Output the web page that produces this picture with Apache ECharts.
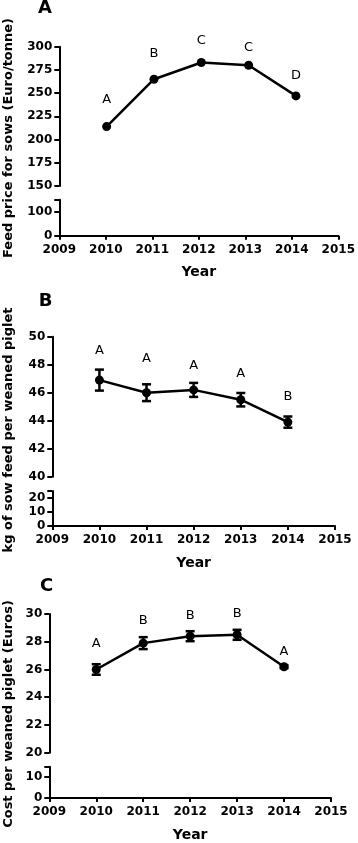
<!DOCTYPE html>
<html>
<head>
<meta charset="utf-8">
<script src="https://cdn.jsdelivr.net/npm/echarts@6/dist/echarts.min.js"></script>
<style>
  html, body { margin: 0; padding: 0; background: #fff; }
  #chart-container { width: 358px; height: 843px; }
</style>
</head>
<body>
<div id="chart-container"></div>
<script>
// data
const years = [2010, 2011, 2012, 2013, 2014];
const yearTicks = [2009, 2015];

const feedPrice = [214, 265, 283, 280, 247];
const feedPriceLetters = ['A', 'B', 'C', 'C', 'D'];
const feedPriceLetterY = [243, 293, 307, 299, 269];

const feedPerPiglet = [46.9, 46.0, 46.2, 45.5, 43.9];
const feedPerPigletErr = [0.75, 0.6, 0.5, 0.48, 0.4];
const feedPerPigletLetters = ['A', 'A', 'A', 'A', 'B'];
const feedPerPigletLetterY = [49.0, 48.4, 47.9, 47.35, 45.7];

const costPerPiglet = [26.0, 27.9, 28.4, 28.5, 26.2];
const costPerPigletErr = [0.38, 0.43, 0.36, 0.36, 0.1];
const costLetters = ['A', 'B', 'B', 'B', 'A'];
const costLetterY = [27.9, 29.5, 29.9, 30.05, 27.3];

const FONT = 'DejaVu Sans';

// panel layout (broken y axis: upper + lower grid)
const panels = [
    {
        tag: 'A', title: 'Feed price for sows (Euro/tonne)',
        values: feedPrice, errors: null, letters: feedPriceLetters, letterY: feedPriceLetterY,
        left: 59.3, width: 284,
        upper: { top: 46.7, height: 139.3, min: 150, max: 300, interval: 25 },
        lower: { top: 199.7, height: 36, max: 150, ticks: [0, 100] },
        tagPos: [45, 8], titlePos: [8.5, 138]
    },
    {
        tag: 'B', title: 'kg of sow feed per weaned piglet',
        values: feedPerPiglet, errors: feedPerPigletErr, letters: feedPerPigletLetters, letterY: feedPerPigletLetterY,
        left: 52.3, width: 282.7,
        upper: { top: 336.7, height: 140, min: 40, max: 50, interval: 2 },
        lower: { top: 491, height: 35, max: 25, ticks: [0, 10, 20] },
        tagPos: [45.5, 301], titlePos: [8.5, 430]
    },
    {
        tag: 'C', title: 'Cost per weaned piglet (Euros)',
        values: costPerPiglet, errors: costPerPigletErr, letters: costLetters, letterY: costLetterY,
        left: 49.3, width: 281.7,
        upper: { top: 614, height: 138.7, min: 20, max: 30, interval: 2 },
        lower: { top: 766.7, height: 35, max: 15, ticks: [0, 10] },
        tagPos: [46.5, 586], titlePos: [8.5, 714]
    }
];

const black = '#000';
const labelStyle = { color: black, fontFamily: FONT, fontWeight: 'bold', fontSize: 12 };

const grids = [];
const xAxes = [];
const yAxes = [];
const series = [];
const graphics = [];

function errorBarItem(params, api) {
    const x = api.value(0);
    const top = api.coord([x, api.value(2)]);
    const bot = api.coord([x, api.value(1)]);
    const w = 4.5;
    const st = { stroke: black, lineWidth: 2.5 };
    return {
        type: 'group',
        children: [
            { type: 'line', shape: { x1: top[0], y1: top[1], x2: bot[0], y2: bot[1] }, style: st },
            { type: 'line', shape: { x1: top[0] - w, y1: top[1], x2: top[0] + w, y2: top[1] }, style: st },
            { type: 'line', shape: { x1: bot[0] - w, y1: bot[1], x2: bot[0] + w, y2: bot[1] }, style: st }
        ]
    };
}

function letterItem(letters, params, api) {
    const p = api.coord([api.value(0), api.value(1)]);
    return {
        type: 'text',
        x: p[0], y: p[1],
        style: {
            text: letters[params.dataIndex],
            fill: black, fontFamily: FONT, fontSize: 13,
            align: 'center', verticalAlign: 'middle'
        }
    };
}

panels.forEach(function (pn, i) {
    const up = i * 2, lo = i * 2 + 1;
    grids.push({ left: pn.left, width: pn.width, top: pn.upper.top, height: pn.upper.height });
    grids.push({ left: pn.left, width: pn.width, top: pn.lower.top, height: pn.lower.height });

    // x axes: hidden on the upper part, drawn on the lower part
    xAxes.push({ type: 'value', gridIndex: up, min: yearTicks[0], max: yearTicks[1], interval: 1, show: false });
    xAxes.push({
        type: 'value', gridIndex: lo, min: yearTicks[0], max: yearTicks[1], interval: 1,
        name: 'Year', nameLocation: 'middle', nameGap: 30,
        nameTextStyle: { color: black, fontFamily: FONT, fontWeight: 'bold', fontSize: 14 },
        axisLine: { lineStyle: { color: black, width: 2 } },
        axisTick: { length: 4, lineStyle: { color: black, width: 2 } },
        axisLabel: Object.assign({ margin: 8, formatter: (v) => String(v) }, labelStyle),
        splitLine: { show: false }
    });

    yAxes.push({
        type: 'value', gridIndex: up, min: pn.upper.min, max: pn.upper.max, interval: pn.upper.interval,
        axisLine: { show: true, lineStyle: { color: black, width: 2 } },
        axisTick: { show: true, length: 5, lineStyle: { color: black, width: 2 } },
        axisLabel: Object.assign({ margin: 7 }, labelStyle),
        splitLine: { show: false }
    });
    yAxes.push({
        type: 'value', gridIndex: lo, min: 0, max: pn.lower.max,
        axisLine: { show: true, lineStyle: { color: black, width: 2 } },
        axisTick: { show: true, length: 5, customValues: pn.lower.ticks.concat([pn.lower.max]), lineStyle: { color: black, width: 2 } },
        axisLabel: Object.assign({ margin: 7, customValues: pn.lower.ticks }, labelStyle),
        splitLine: { show: false }
    });

    series.push({
        type: 'line', xAxisIndex: up, yAxisIndex: up,
        data: years.map((y, k) => [y, pn.values[k]]),
        symbol: 'circle', symbolSize: 9,
        lineStyle: { color: black, width: 2.5 },
        itemStyle: { color: black },
        animation: false, z: 3
    });
    if (pn.errors) {
        series.push({
            type: 'custom', xAxisIndex: up, yAxisIndex: up,
            data: years.map((y, k) => [y, pn.values[k] - pn.errors[k], pn.values[k] + pn.errors[k]]),
            renderItem: errorBarItem, animation: false, z: 4
        });
    }
    series.push({
        type: 'custom', xAxisIndex: up, yAxisIndex: up, clip: false,
        data: years.map((y, k) => [y, pn.letterY[k]]),
        renderItem: (params, api) => letterItem(pn.letters, params, api),
        animation: false
    });

    graphics.push({
        type: 'text', x: pn.tagPos[0], y: pn.tagPos[1],
        style: { text: pn.tag, fill: black, fontFamily: FONT, fontWeight: 'bold', fontSize: 18, align: 'center', verticalAlign: 'middle' }
    });
    graphics.push({
        type: 'text', x: pn.titlePos[0], y: pn.titlePos[1], rotation: Math.PI / 2,
        style: { text: pn.title, fill: black, fontFamily: FONT, fontWeight: 'bold', fontSize: 13, align: 'center', verticalAlign: 'middle' }
    });
});

const chart = echarts.init(document.getElementById('chart-container'), null, { renderer: 'canvas' });
chart.setOption({
    backgroundColor: '#fff',
    animation: false,
    grid: grids,
    xAxis: xAxes,
    yAxis: yAxes,
    series: series,
    graphic: graphics
});
</script>
</body>
</html>
